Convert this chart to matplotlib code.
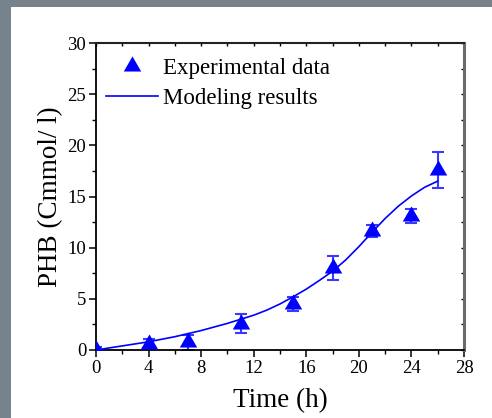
import matplotlib
matplotlib.use("Agg")
import matplotlib.pyplot as plt
from matplotlib.patches import Rectangle
from matplotlib.path import Path
from matplotlib.ticker import MultipleLocator
from matplotlib.legend_handler import HandlerLine2D

# Experimental data
t_exp = [0, 4, 7, 11, 15, 18, 21, 24, 26]
phb_exp = [0.0, 0.6, 0.76, 2.56, 4.5, 8.0, 11.6, 13.1, 17.6]
phb_err = [0.3, 0.5, 0.75, 0.93, 0.7, 1.17, 0.6, 0.7, 1.74]

# Modeling results
t_mod = [0, 1, 2, 3, 4, 5, 6, 7, 8, 9, 10, 11, 12, 13, 14, 15, 16, 17, 18,
         19, 20, 21, 22, 23, 24, 25, 26]
phb_mod = [0.0, 0.2, 0.4, 0.6, 0.8, 1.05, 1.3, 1.6, 1.9, 2.25, 2.6, 3.0, 3.4,
           3.9, 4.5, 5.2, 5.95, 6.8, 7.7, 8.8, 10.1, 11.5, 12.85, 14.05, 15.05,
           15.9, 16.5]

x_ticks = [0, 4, 8, 12, 16, 20, 24, 28]
y_ticks = [0, 5, 10, 15, 20, 25, 30]

plt.rcParams['font.family'] = ['Liberation Serif', 'DejaVu Serif']
plt.rcParams['mathtext.fontset'] = 'stix'

fig = plt.figure(figsize=(4.92, 4.18), dpi=100)
fig.patch.set_facecolor('white')
gray = '#76838d'
fig.add_artist(Rectangle((0, 0), 11 / 492, 1, transform=fig.transFigure,
                         facecolor=gray, edgecolor='none', zorder=-1))
fig.add_artist(Rectangle((0, 1 - 7 / 418), 1, 7 / 418, transform=fig.transFigure,
                         facecolor=gray, edgecolor='none', zorder=-1))

ax = fig.add_axes([96 / 492, 68 / 418, 368 / 492, 307 / 418])

# centroid-centered triangle marker
tri = Path([[0, 4 / 3], [-1.1547, -2 / 3], [1.1547, -2 / 3], [0, 4 / 3]],
           [Path.MOVETO, Path.LINETO, Path.LINETO, Path.CLOSEPOLY])

ax.errorbar(t_exp, phb_exp, yerr=phb_err, fmt='none', ecolor='#3a3aff',
            elinewidth=1.5, capsize=4.3, capthick=1.5, zorder=2)
ax.plot(t_exp, phb_exp, linestyle='none', marker=tri, markersize=14.5,
        color='blue', markeredgewidth=0, label='Experimental data', zorder=3)
ax.plot(t_mod, phb_mod, color='blue', linewidth=1.2, label='Modeling results',
        zorder=4)

ax.set_xlim(0, 28)
ax.set_ylim(0, 30)
ax.xaxis.set_minor_locator(MultipleLocator(2))
ax.yaxis.set_minor_locator(MultipleLocator(2.5))
ax.set_xticks(x_ticks)
ax.set_yticks(y_ticks)

ax.tick_params(which='major', direction='out', length=5, width=1.1,
               labelsize=13.5, pad=2, top=False, right=False)
ax.tick_params(which='minor', direction='out', length=3, width=1.0,
               top=False, right=False)

# small inward ticks on top & right
axt = ax.secondary_xaxis('top')
axt.xaxis.set_major_locator(MultipleLocator(2))
axt.tick_params(direction='in', length=2, width=1, labeltop=False)
axt.spines['top'].set_visible(False)
axr = ax.secondary_yaxis('right')
axr.yaxis.set_major_locator(MultipleLocator(2.5))
axr.tick_params(direction='in', length=2, width=1, labelright=False)
axr.spines['right'].set_visible(False)

for s in ['left', 'bottom']:
    ax.spines[s].set_linewidth(1.3)
    ax.spines[s].set_color('black')
ax.spines['top'].set_linewidth(1.5)
ax.spines['top'].set_color('#222222')
ax.spines['right'].set_linewidth(2.2)
ax.spines['right'].set_color('#6a6a6a')

ax.set_xlabel('Time (h)', fontsize=19.5, labelpad=8)
ax.set_ylabel('PHB (Cmmol/ l)', fontsize=19.5, labelpad=3)


class ShiftedMarkerHandler(HandlerLine2D):
    def get_xdata(self, legend, xdescent, ydescent, width, height, fontsize):
        xdata, _ = super().get_xdata(legend, xdescent, ydescent, width,
                                     height, fontsize)
        return xdata, [-xdescent + 0.73 * width]


handles, labels = ax.get_legend_handles_labels()
leg = ax.legend(handles, labels, loc='upper left',
                bbox_to_anchor=(-0.008, 0.993), frameon=False,
                fontsize=16.5, handlelength=2.3, handletextpad=0.2,
                labelspacing=0.42, borderpad=0.35, borderaxespad=0.2,
                handler_map={handles[0]: ShiftedMarkerHandler(numpoints=1)})

fig.savefig('out.png', dpi=100, facecolor='white')
